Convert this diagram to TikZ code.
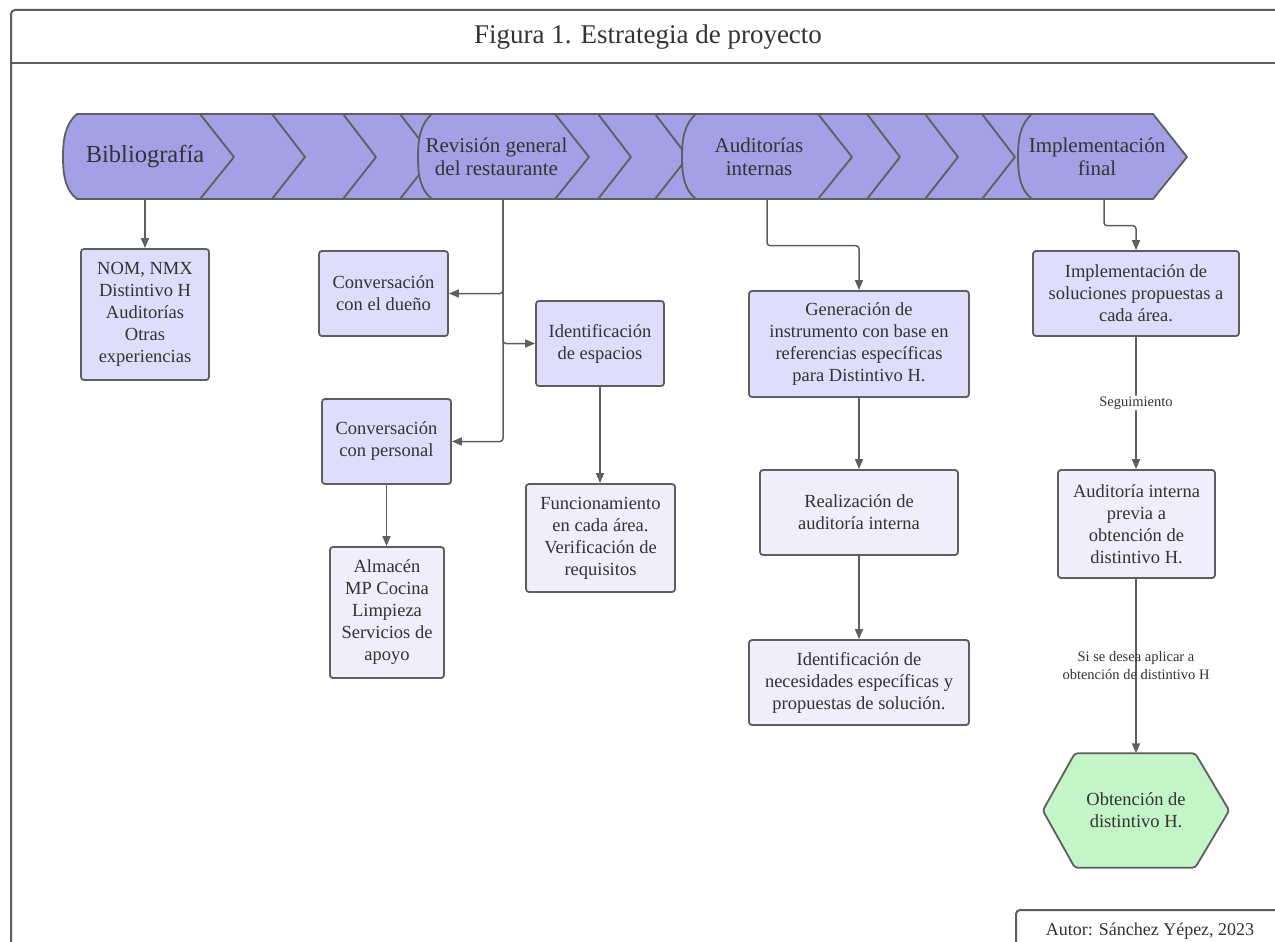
\documentclass[tikz,border=0pt]{standalone}
\usepackage{fontspec}
\setmainfont{Liberation Serif}
\usetikzlibrary{arrows.meta,calc}
\definecolor{bandfill}{HTML}{A3A0E6}
\definecolor{boxdark}{HTML}{DEDDFC}
\definecolor{boxlight}{HTML}{EEEEFC}
\definecolor{edgegray}{HTML}{5E5E5E}
\definecolor{hexfill}{HTML}{C3F5C8}
\definecolor{txt}{HTML}{333333}
\begin{document}
\begin{tikzpicture}[x=1pt,y=-1pt, every node/.style={text=txt},
  boxd/.style={draw=edgegray, fill=boxdark, line width=1.8pt, rounded corners=3pt,
    align=center, inner sep=0pt, font=\fontsize{18.5}{22}\selectfont},
  boxl/.style={boxd, fill=boxlight},
  bandlabel/.style={align=center, inner sep=0pt, minimum height=85pt,
    font=\fontsize{21}{23}\selectfont},
  bandline/.style={draw=edgegray, line width=1.8pt, line join=round},
  conn/.style={draw=edgegray, line width=1.5pt, rounded corners=3pt,
    -{Triangle[length=10pt,width=8pt]}},
  smalllabel/.style={inner sep=1pt, font=\fontsize{14.5}{18}\selectfont, align=center}
]
\useasboundingbox (0,0) rectangle (1275,942);
\fill[white] (0,0) rectangle (1275,942);

% outer frame and title
\draw[edgegray, line width=2pt, rounded corners=4pt] (11,1000) -- (11,10) -- (1300,10);
\draw[edgegray, line width=2pt, rounded corners=4pt] (1300,63) -- (11,63);
\node[font=\fontsize{27}{30}\selectfont] (title) at (648,37) {Figura 1. Estrategia de proyecto};

% autor box
\draw[edgegray, line width=2pt, rounded corners=4pt] (1016,960) -- (1016,910) -- (1300,910);
\node[font=\fontsize{18}{20}\selectfont] (autor) at (1150,931) {Autor: Sánchez Yépez, 2023};

% chevron band background
\fill[bandfill] (77,114) -- (1153,114) -- (1188,157) -- (1153,199) -- (77,199)
  .. controls (64,188) and (63,172) .. (63,157) .. controls (63,142) and (64,126) .. (77,114) -- cycle;
% inner chevrons
\foreach \xt in {272,343,400,598,655,867,925,982}{
  \draw[bandline] (\xt,114) -- (\xt+33,157) -- (\xt,199);
}
% main shapes
\foreach \L/\R in {63/200,418/555,682/818,1018/1153}{
  \filldraw[fill=bandfill, bandline] (\L+14,114) -- (\R,114) -- (\R+34,157) -- (\R,199) -- (\L+14,199)
    .. controls (\L+2,190) and (\L,174) .. (\L,157) .. controls (\L,140) and (\L+2,124) .. (\L+14,114) -- cycle;
}
\draw[bandline] (77,114) -- (1153,114);
\draw[bandline] (77,199) -- (1153,199);

\node[bandlabel, font=\fontsize{24.5}{27}\selectfont] (biblio) at (145,157) {Bibliografía};
\node[bandlabel] (revision) at (496.5,157) {Revisión general\\del restaurante};
\node[bandlabel] (audit) at (759,157) {Auditorías\\internas};
\node[bandlabel] (implfin) at (1097,157) {Implementación\\final};

% boxes
\node[boxd, minimum width=128pt, minimum height=131pt] (nom) at (145,314.5)
  {NOM, NMX\\Distintivo H\\Auditorías\\Otras\\experiencias};
\node[boxd, minimum width=129pt, minimum height=85pt] (dueno) at (383.5,293.5)
  {Conversación\\con el dueño};
\node[boxd, minimum width=128pt, minimum height=85pt] (espacios) at (600,343.5)
  {Identificación\\de espacios};
\node[boxd, minimum width=129pt, minimum height=85pt] (personal) at (386.5,441.5)
  {Conversación\\con personal};
\node[boxl, minimum width=114pt, minimum height=131pt] (almacen) at (387,612.5)
  {Almacén\\MP Cocina\\Limpieza\\Servicios de\\apoyo};
\node[boxl, minimum width=149pt, minimum height=108pt] (funcion) at (600.5,538)
  {Funcionamiento\\en cada área.\\Verificación de\\requisitos};
\node[boxd, minimum width=220pt, minimum height=106pt] (gener) at (859,344)
  {Generación de\\instrumento con base en\\referencias específicas\\para Distintivo H.};
\node[boxl, minimum width=198pt, minimum height=85pt] (realiz) at (859,512.5)
  {Realización de\\auditoría interna};
\node[boxl, minimum width=220pt, minimum height=85pt] (necesid) at (859,682.5)
  {Identificación de\\necesidades específicas y\\propuestas de solución.};
\node[boxd, minimum width=206pt, minimum height=85pt] (implsol) at (1136,293.5)
  {Implementación de\\soluciones propuestas a\\cada área.};
\node[boxl, minimum width=157pt, minimum height=108pt] (auditp) at (1136.5,524)
  {Auditoría interna\\previa a\\obtención de\\distintivo H.};

% hexagon
\node[inner sep=0pt, minimum width=186pt, minimum height=114pt] (hex) at (1136,810.5) {};
\filldraw[fill=hexfill, draw=edgegray, line width=1.8pt, rounded corners=3pt]
  (hex.west) -- ([xshift=32pt]hex.north west) -- ([xshift=-34pt]hex.north east) -- (hex.east)
  -- ([xshift=-34pt]hex.south east) -- ([xshift=32pt]hex.south west) -- cycle;
\node[align=center, inner sep=0pt, font=\fontsize{18.5}{22}\selectfont] (hextext) at (hex.center) {Obtención de\\distintivo H.};

% connectors
\draw[conn] (biblio.south) -- (nom.north);
\draw[conn] ([xshift=6.5pt]revision.south) |- (dueno.east);
\draw[conn] ([xshift=6.5pt]revision.south) |- (espacios.west);
\draw[conn] ([xshift=6.5pt]revision.south) |- (personal.east);
\draw[conn] (espacios.south) -- (funcion.north -| espacios.south);
\draw[conn] (personal.south) -- (almacen.north -| personal.south);
\draw[conn] ([xshift=8pt]audit.south) -- ++(0,46) -| (gener.north);
\draw[conn] (gener.south) -- (realiz.north);
\draw[conn] (realiz.south) -- (necesid.north);
\draw[conn] ([xshift=7pt]implfin.south) -- ++(0,26) -| (implsol.north);
\draw[conn] (implsol.south) -- node[smalllabel, fill=white, pos=0.5] (seg) {Seguimiento} (auditp.north -| implsol.south);
\draw[conn] (auditp.south -| hex.north) -- (hex.north);
\node[smalllabel] (silab) at (1136,666) {Si se desea aplicar a\\obtención de distintivo H};
\end{tikzpicture}
\end{document}
